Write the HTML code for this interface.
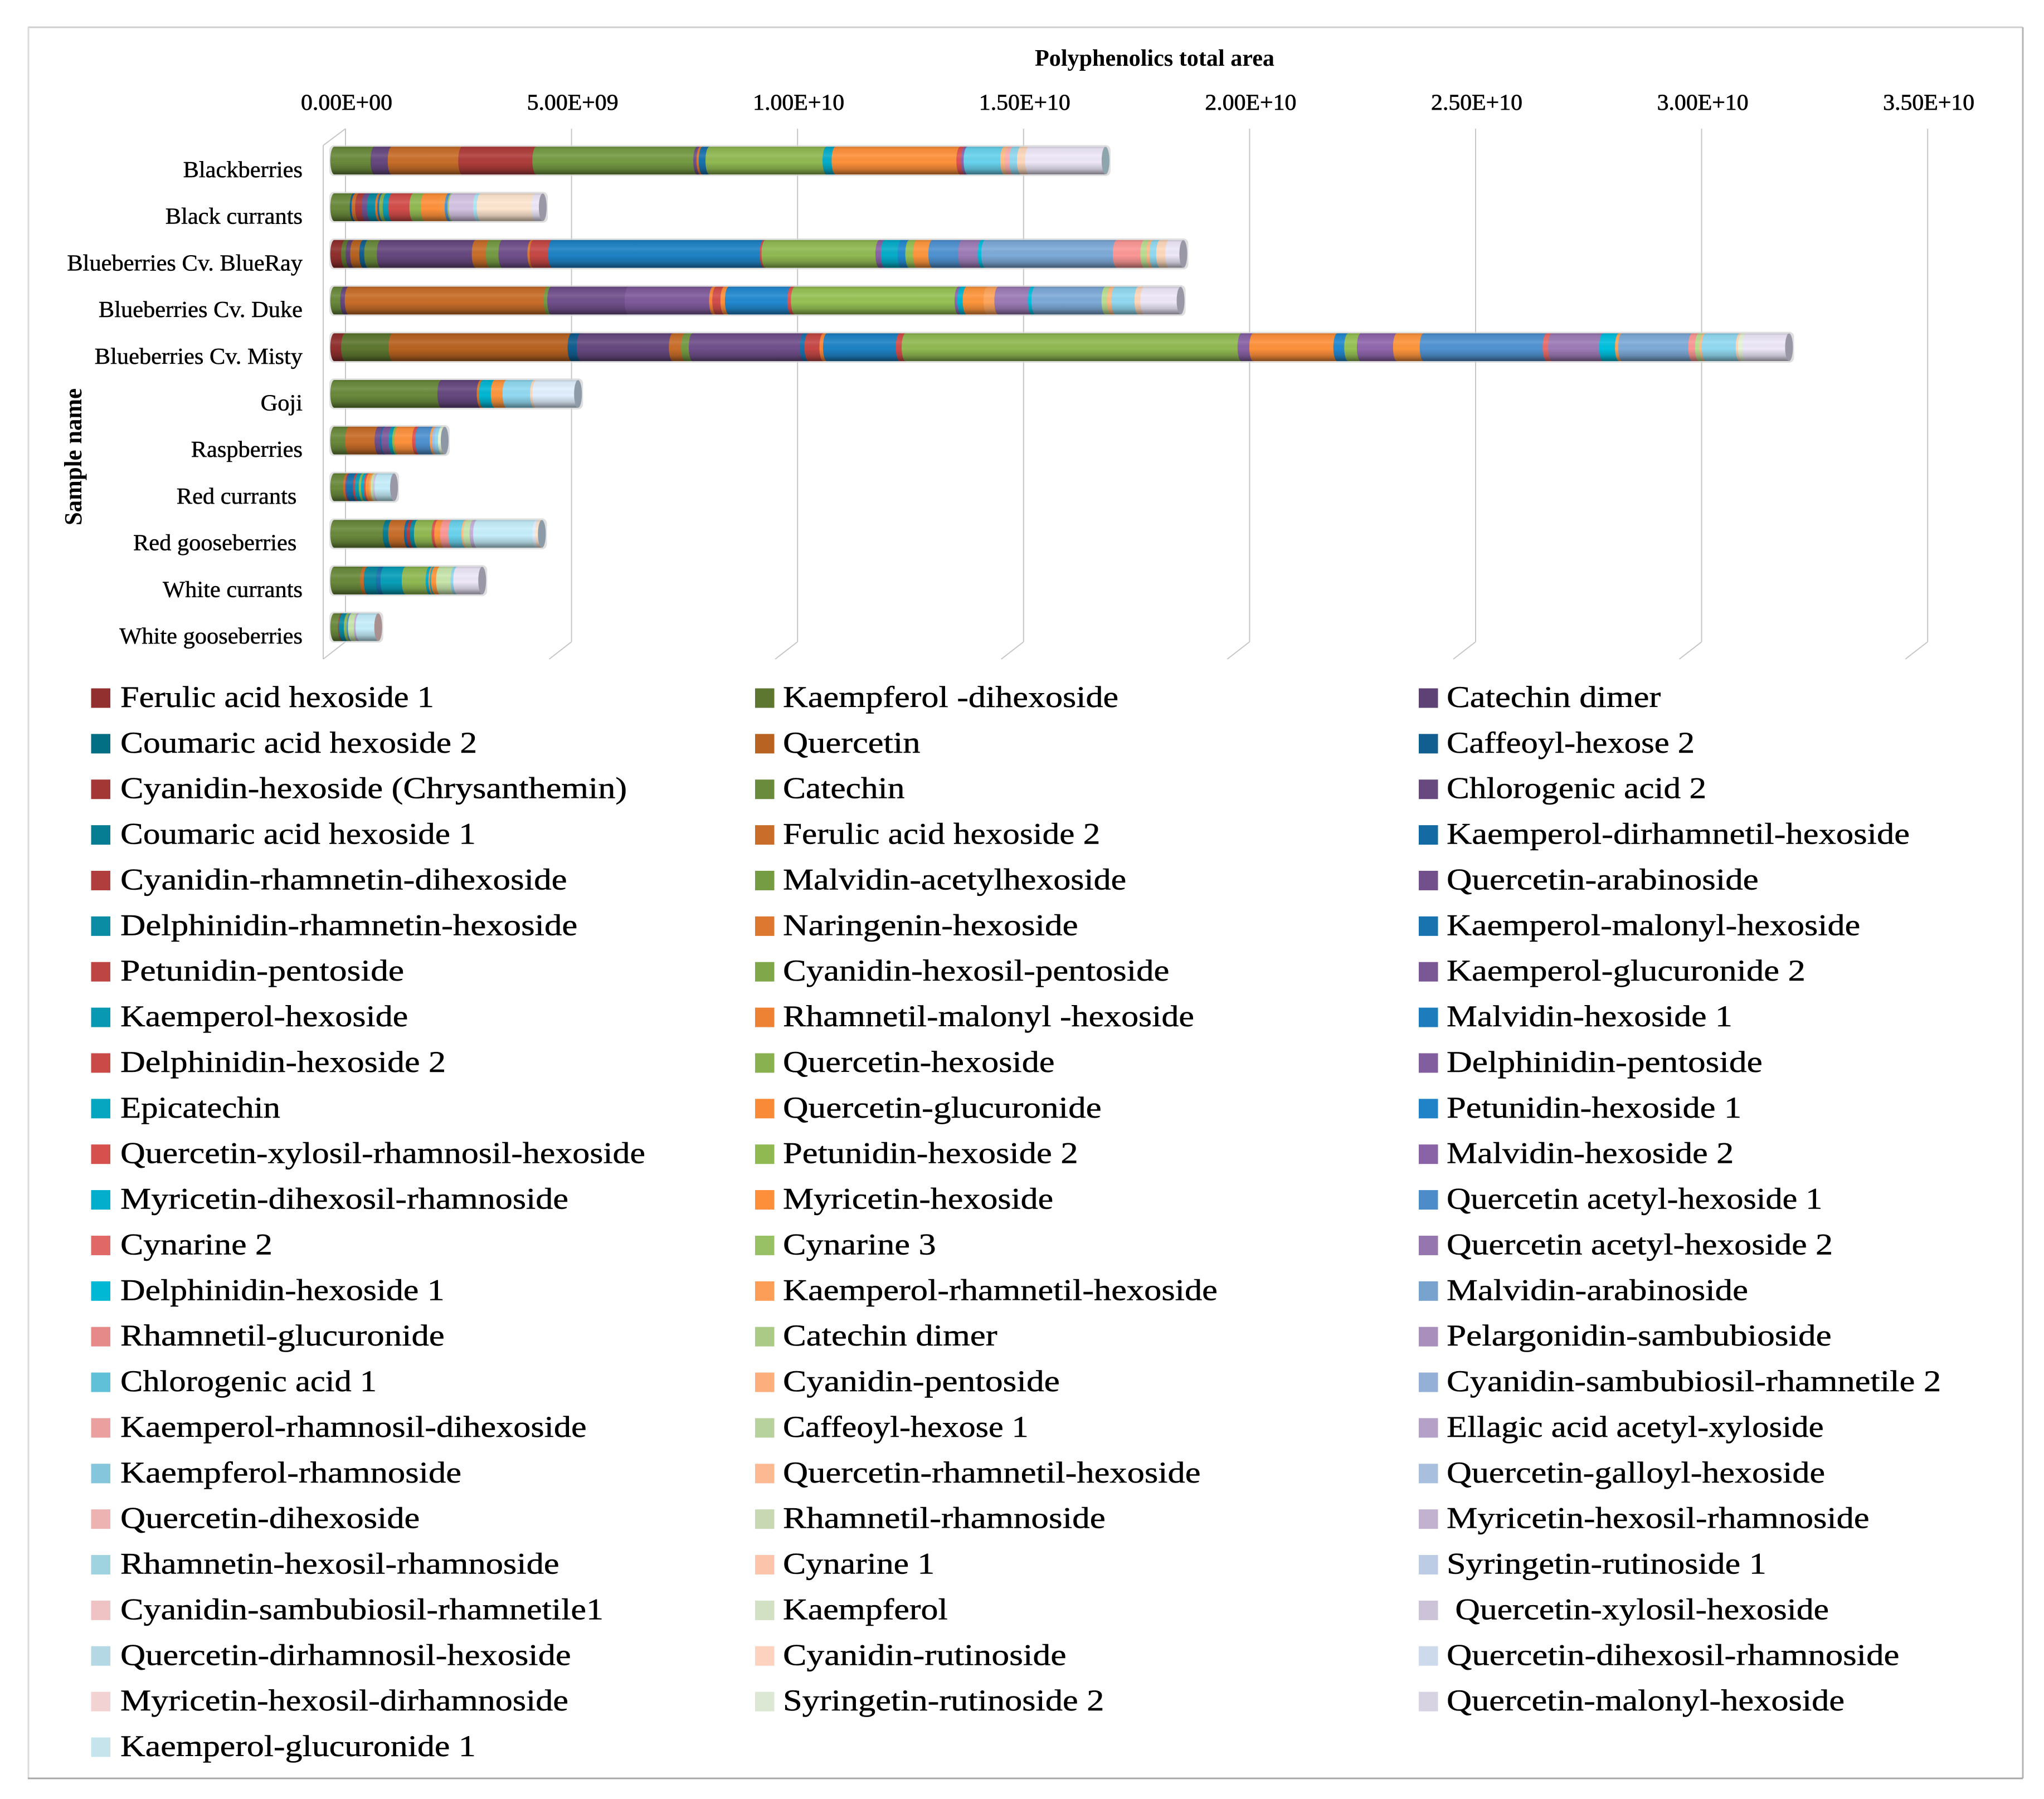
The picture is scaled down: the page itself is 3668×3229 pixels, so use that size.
<!DOCTYPE html>
<html lang="en">
<head>
<meta charset="utf-8">
<title>Polyphenolics total area</title>
<style>
html,body{margin:0;padding:0;background:#fff;}
svg{display:block;}
text{font-family:"Liberation Serif",serif;fill:#000;white-space:pre;}
.tick{font-size:40px;stroke:#000;stroke-width:.7px;}
.cat{font-size:41px;stroke:#000;stroke-width:.5px;}
.leg{font-size:54px;stroke:#000;stroke-width:.5px;}
</style>
</head>
<body>
<svg id="chart" xmlns="http://www.w3.org/2000/svg" width="3668" height="3229" viewBox="0 0 3668 3229">
  <defs>
    <linearGradient id="gloss" x1="0" y1="0" x2="0" y2="1">
      <stop offset="0" stop-color="#000" stop-opacity=".18"/>
      <stop offset=".08" stop-color="#000" stop-opacity=".05"/>
      <stop offset=".32" stop-color="#fff" stop-opacity=".1"/>
      <stop offset=".55" stop-color="#000" stop-opacity="0"/>
      <stop offset=".8" stop-color="#000" stop-opacity=".18"/>
      <stop offset="1" stop-color="#000" stop-opacity=".5"/>
    </linearGradient>
  </defs>
  <rect x="0" y="0" width="3668" height="3229" fill="#fff"/>
  <line x1="50" y1="49" x2="3630" y2="49" stroke="#cfcfcf" stroke-width="3"/>
  <line x1="51" y1="49" x2="51" y2="3192" stroke="#dcdcdc" stroke-width="3"/>
  <line x1="3630" y1="49" x2="3630" y2="3192" stroke="#b4b4b4" stroke-width="3"/>
  <line x1="50" y1="3192" x2="3630" y2="3192" stroke="#a8a8a8" stroke-width="3"/>
  <text x="1857" y="118" font-size="42" font-weight="bold" textLength="430" lengthAdjust="spacingAndGlyphs">Polyphenolics total area</text>
  <text transform="translate(146,820) rotate(-90)" text-anchor="middle" font-size="44" font-weight="bold" textLength="246" lengthAdjust="spacingAndGlyphs">Sample name</text>
  <g id="grid"></g>
  <g id="ticks"></g>
  <g id="cats"></g>
  <g id="bars"></g>
  <g id="legend"></g>
</svg>
<script>
// Tick values are in units of 1E+09
const tickValues = [0, 5, 10, 15, 20, 25, 30, 35];
const tickLabels = ["0.00E+00","5.00E+09","1.00E+10","1.50E+10","2.00E+10","2.50E+10","3.00E+10","3.50E+10"];
const categories = ["Blackberries","Black currants","Blueberries Cv. BlueRay","Blueberries Cv. Duke","Blueberries Cv. Misty","Goji","Raspberries","Red currants ","Red gooseberries ","White currants","White gooseberries"];

const seriesNames = [
"Ferulic acid hexoside 1","Kaempferol -dihexoside","Catechin dimer",
"Coumaric acid hexoside 2","Quercetin","Caffeoyl-hexose 2",
"Cyanidin-hexoside (Chrysanthemin)","Catechin","Chlorogenic acid 2",
"Coumaric acid hexoside 1","Ferulic acid hexoside 2","Kaemperol-dirhamnetil-hexoside",
"Cyanidin-rhamnetin-dihexoside","Malvidin-acetylhexoside","Quercetin-arabinoside",
"Delphinidin-rhamnetin-hexoside","Naringenin-hexoside","Kaemperol-malonyl-hexoside",
"Petunidin-pentoside","Cyanidin-hexosil-pentoside","Kaemperol-glucuronide 2",
"Kaemperol-hexoside","Rhamnetil-malonyl -hexoside","Malvidin-hexoside 1",
"Delphinidin-hexoside 2","Quercetin-hexoside","Delphinidin-pentoside",
"Epicatechin","Quercetin-glucuronide","Petunidin-hexoside 1",
"Quercetin-xylosil-rhamnosil-hexoside","Petunidin-hexoside 2","Malvidin-hexoside 2",
"Myricetin-dihexosil-rhamnoside","Myricetin-hexoside","Quercetin acetyl-hexoside 1",
"Cynarine 2","Cynarine 3","Quercetin acetyl-hexoside 2",
"Delphinidin-hexoside 1","Kaemperol-rhamnetil-hexoside","Malvidin-arabinoside",
"Rhamnetil-glucuronide","Catechin dimer","Pelargonidin-sambubioside",
"Chlorogenic acid 1","Cyanidin-pentoside","Cyanidin-sambubiosil-rhamnetile 2",
"Kaemperol-rhamnosil-dihexoside","Caffeoyl-hexose 1","Ellagic acid acetyl-xyloside",
"Kaempferol-rhamnoside","Quercetin-rhamnetil-hexoside","Quercetin-galloyl-hexoside",
"Quercetin-dihexoside","Rhamnetil-rhamnoside","Myricetin-hexosil-rhamnoside",
"Rhamnetin-hexosil-rhamnoside","Cynarine 1","Syringetin-rutinoside 1",
"Cyanidin-sambubiosil-rhamnetile1","Kaempferol"," Quercetin-xylosil-hexoside",
"Quercetin-dirhamnosil-hexoside","Cyanidin-rutinoside","Quercetin-dihexosil-rhamnoside",
"Myricetin-hexosil-dirhamnoside","Syringetin-rutinoside 2","Quercetin-malonyl-hexoside",
"Kaemperol-glucuronide 1"];

// Right edge of each legend label (px in the 1568-wide view)
const legendLabelEnds = [
333,858,1274, 366,706,1300, 481,694,1309, 365,844,1465,
435,864,1349, 443,827,1427, 310,897,1385, 313,916,1329,
342,809,1352, 215,845,1336, 495,827,1330, 436,808,1398,
209,718,1406, 341,934,1341, 341,765,1405, 289,813,1489,
450,789,1399, 354,921,1400, 322,848,1434, 429,717,1355,
463,727,1403, 438,818,1457, 436,847,1415, 365];

// Palette: six hues, each with twelve shades from dark to light
const redShades = ["#91302E","#A23735","#B03E3C","#BD4543","#C94A47","#D6504E","#E06866","#E58A88","#E9A09F","#EDB3B2","#EFC3C3","#F2D2D2"];
const greenShades = ["#5E7730","#6A8A3C","#759B43","#80A84A","#8AB14F","#90B951","#98C064","#AACA85","#B7D29D","#C7D8B3","#D2E0C4","#DCE8D4"];
const purpleShades = ["#5F4275","#674980","#71508C","#7A5795","#835E9E","#8A62A6","#9676AE","#A88FBC","#B5A1C8","#C2B2CF","#CDC3D9","#D8D3E2"];
const tealShades = ["#036F84","#077D93","#0A8CA4","#0998B1","#06A5C0","#02AECB","#00B8D4","#5FC0D8","#85C6DC","#9FD3E0","#B4D9E5","#C6E4EC"];
const orangeShades = ["#B86321","#C96E2A","#DC782F","#ED8134","#F98A38","#FD8F3A","#FD9E58","#FDAE7D","#FDB992","#FCC5AB","#FDD2BE","#FDDDCF"];
const blueShades = ["#115E90","#146AA2","#1973AF","#1D7DBC","#2183C7","#4C8CC8","#78A3CF","#94B0D6","#A8BFDD","#BBCCE4","#CDDAEB","#D8E2F0"];
const hueOrder = [redShades, greenShades, purpleShades, tealShades, orangeShades, blueShades];
const capColors = ["#8FA5AE","#9A98A6","#9A98A6","#9A98A6","#9A98A6","#8D9BA8","#8D97A5","#9A98A6","#8C9BA8","#9A98A6","#A89090"];

// Stacks: series index and value (1E+09 units) in drawing order
const blackberriesSeries = [7,8,10,12,13,14,16,17,25,27,28,30,32,45,46,48,51,58,68];
const blackberriesValues = [.89,.38,1.56,1.64,3.56,.07,.05,.15,2.59,.20,2.76,.10,.06,.81,.10,.10,.17,.18,1.69];
const blackCurrantsSeries = [7,5,10,12,14,15,16,17,19,21,24,25,28,34,35,37,56,57,64,68];
const blackCurrantsValues = [.43,.04,.08,.14,.12,.18,.05,.04,.08,.12,.47,.25,.41,.12,.06,.03,.54,.08,1.21,.16];
const blueRaySeries = [0,1,2,4,5,7,8,10,13,14,16,18,23,24,25,26,27,29,31,34,35,38,39,41,42,43,46,51,58,68];
const blueRayValues = [.24,.10,.10,.20,.11,.28,2.10,.31,.28,.64,.05,.41,4.68,.04,2.52,.12,.37,.17,.17,.34,.66,.43,.08,2.91,.61,.13,.07,.15,.20,.31];
const dukeSeries = [7,8,10,13,14,20,22,24,28,29,30,31,32,33,34,40,38,39,41,43,46,51,58,68];
const dukeValues = [.22,.10,4.40,.08,1.71,1.87,.07,.18,.10,1.38,.08,3.62,.06,.12,.46,.24,.74,.08,1.55,.12,.10,.51,.13,.80];
const mistySeries = [0,1,4,5,8,10,13,14,17,18,22,23,24,25,26,28,29,31,32,34,35,36,38,39,40,41,42,43,46,51,58,61,68];
const mistyValues = [.24,1.05,3.96,.20,2.04,.27,.17,2.46,.10,.33,.08,1.61,.13,7.43,.26,1.86,.24,.28,.80,.59,2.72,.12,1.13,.35,.07,1.55,.15,.10,.05,.75,.05,.10,.94];
const gojiSeries = [7,8,16,33,34,51,58,65];
const gojiValues = [2.37,.87,.05,.26,.26,.61,.05,.92];
const raspberriesSeries = [7,10,14,17,20,21,25,28,30,35,40,47,51,61];
const raspberriesValues = [.33,.65,.12,.03,.16,.08,.05,.39,.07,.32,.05,.06,.07,.06];
const redCurrantsSeries = [7,10,14,17,18,21,25,27,30,34,40,49,56,63];
const redCurrantsValues = [.28,.05,.03,.14,.04,.09,.05,.06,.04,.07,.04,.05,.04,.34];
const redGooseberriesSeries = [7,9,10,11,12,15,25,30,34,42,45,46,49,50,63,65,64];
const redGooseberriesValues = [1.16,.12,.35,.06,.07,.09,.39,.06,.13,.18,.29,.04,.14,.08,1.31,.06,.06];
const whiteCurrantsSeries = [7,10,15,17,21,25,27,28,33,34,49,51,68];
const whiteCurrantsValues = [.66,.08,.27,.10,.47,.53,.06,.03,.03,.11,.32,.06,.55];
const whiteGooseberriesSeries = [7,12,15,25,35,49,50,63];
const whiteGooseberriesValues = [.17,.02,.11,.06,.03,.13,.04,.41];

const stackSeries = [blackberriesSeries,blackCurrantsSeries,blueRaySeries,dukeSeries,mistySeries,gojiSeries,raspberriesSeries,redCurrantsSeries,redGooseberriesSeries,whiteCurrantsSeries,whiteGooseberriesSeries];
const stackValues = [blackberriesValues,blackCurrantsValues,blueRayValues,dukeValues,mistyValues,gojiValues,raspberriesValues,redCurrantsValues,redGooseberriesValues,whiteCurrantsValues,whiteGooseberriesValues];

const NS = "http://www.w3.org/2000/svg";
const pxPerUnit = 81.12;
const barX = v => 600 + v * pxPerUnit;
const backX = v => 620 + v * pxPerUnit;
const frontX = v => 580 + v * pxPerUnit;
const barTop = i => 263.5 + i * 83.75;
const labelBase = i => 318 + i * 83.7;
const barH = 49.5, capRx = 7;

function mk(parent, tag, attrs, text) {
  const el = document.createElementNS(NS, tag);
  for (const k in attrs) el.setAttribute(k, attrs[k]);
  if (text !== undefined) el.textContent = text;
  parent.appendChild(el);
  return el;
}
function seriesColor(s) { return hueOrder[s % 6][Math.floor(s / 6)]; }
function barColor(s) {
  const level = Math.floor(s / 6);
  const f = level >= 7 ? 1.1 : (level >= 3 ? 1.05 : 1);
  const hex = seriesColor(s);
  const ch = [1, 3, 5].map(p => Math.min(255, Math.round(parseInt(hex.substr(p, 2), 16) * f)));
  return "rgb(" + ch.join(",") + ")";
}

// Grid
const grid = document.getElementById("grid");
tickValues.forEach(function (v) {
  const ln = mk(grid, "line", {x1: backX(v), y1: 231, x2: backX(v), y2: 1152, stroke: "#c6c6c6", "stroke-width": 2});
  
  
  const foot = mk(grid, "line", {x1: backX(v), y1: 1152, x2: frontX(v), y2: 1183, stroke: "#c6c6c6", "stroke-width": 2});
  
  
});
const wall = mk(grid, "line", {x1: frontX(0), y1: 261, x2: frontX(0), y2: 1183, stroke: "#c6c6c6", "stroke-width": 2});


const wallTop = mk(grid, "line", {x1: frontX(0), y1: 261, x2: backX(0), y2: 231, stroke: "#c6c6c6", "stroke-width": 2});



// Tick labels
const ticks = document.getElementById("ticks");
tickValues.forEach(function (v, i) {
  const t = mk(ticks, "text", {x: backX(v) + 2, y: 197, "text-anchor": "middle", "class": "tick", textLength: 164, lengthAdjust: "spacingAndGlyphs"}, tickLabels[i]);
  
  
});

// Category labels
const cats = document.getElementById("cats");
categories.forEach(function (c, i) {
  const t = mk(cats, "text", {"text-anchor": "end", "class": "cat", transform: "translate(543," + labelBase(i) + ") scale(1.035,1)"}, c);
  
  
});

// Bars
const bars = document.getElementById("bars");
categories.forEach(function (c, i) {
  const series = stackSeries[i], values = stackValues[i];
  const top = barTop(i), bot = top + barH;
  const total = values.reduce((a, b) => a + b, 0);
  const xEnd = barX(total);
  const g = mk(bars, "g", {});
  
  
  const halo = mk(g, "rect", {x: barX(0) - 9, y: top - 3, width: xEnd - barX(0) + 18, height: barH + 6, rx: 9, fill: "#d4d4d4", opacity: .75});
  
  
  let acc = 0;
  series.forEach(function (s, k) {
    const x0 = barX(acc), x1 = barX(acc + values[k]);
    acc += values[k];
    const d = "M" + x0 + " " + top + " A" + capRx + " " + barH / 2 + " 0 0 0 " + x0 + " " + bot +
              " L" + x1 + " " + bot + " A" + capRx + " " + barH / 2 + " 0 0 1 " + x1 + " " + top + " Z";
    const col = barColor(s);
    const seg = mk(g, "path", {d: d, fill: col, stroke: col, "stroke-width": .6});
    
    
  });
  const shadeD = "M" + barX(0) + " " + top + " A" + capRx + " " + barH / 2 + " 0 0 0 " + barX(0) + " " + bot +
                 " L" + xEnd + " " + bot + " A" + capRx + " " + barH / 2 + " 0 0 0 " + xEnd + " " + top + " Z";
  const gl = mk(g, "path", {d: shadeD, fill: "url(#gloss)"});
  
  
  const cap = mk(g, "ellipse", {cx: xEnd, cy: top + barH / 2, rx: capRx, ry: barH / 2, fill: capColors[i]});
  
  
});

// Legend
const legend = document.getElementById("legend");
const swatchX = [163.5, 1355, 2546];
const textX = [216, 1405, 2596];
seriesNames.forEach(function (name, s) {
  const row = Math.floor(s / 3), col = s % 3;
  const base = 1269 + row * 81.87;
  const sw = mk(legend, "rect", {x: swatchX[col], y: base - 33.5, width: 34.5, height: 35, fill: seriesColor(s)});
  
  
  const t = mk(legend, "text", {"class": "leg", x: textX[col], y: base, textLength: legendLabelEnds[s] * 2.3393 - textX[col], lengthAdjust: "spacingAndGlyphs"}, name);
  
  
});
</script>
</body>
</html>
